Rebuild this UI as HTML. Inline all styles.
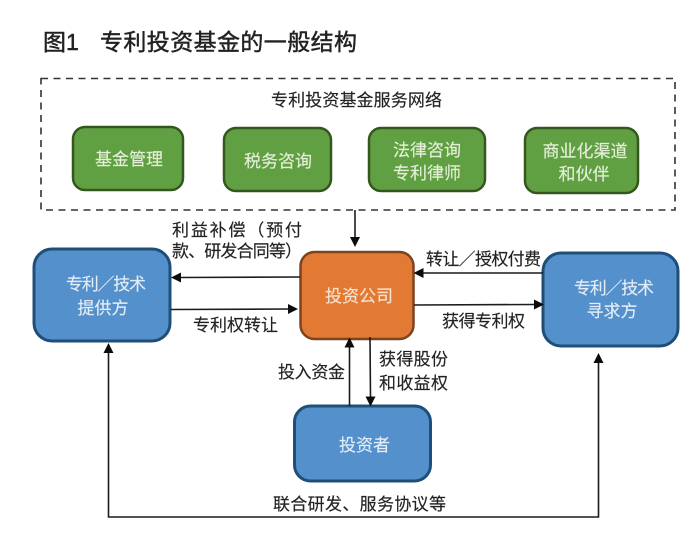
<!DOCTYPE html>
<html lang="zh">
<head>
<meta charset="utf-8">
<style>
html,body{margin:0;padding:0;background:#fff}
svg{display:block;filter:blur(.35px)}
text{font-family:"Liberation Sans","Noto Sans CJK SC",sans-serif;font-size:17px;fill:#222;stroke:#222;stroke-width:.15px}
.w{fill:#e4efd9;stroke:#e4efd9;text-anchor:middle}
.b{fill:#e2edf7;stroke:#e2edf7;text-anchor:middle}
.t{fill:#e2edf7;stroke:#e2edf7}
.g{fill:#61a042;stroke:#34571f;stroke-width:2.5}
.bl{fill:#5490cb;stroke:#1f4e79;stroke-width:3}
.l{stroke:#1c1c1c;stroke-width:1.6;fill:none}
.a{fill:#0c0c0c}
.h{font-size:23px;stroke-width:.45px}
</style>
</head>
<body>
<svg width="700" height="544" viewBox="0 0 700 544" xmlns="http://www.w3.org/2000/svg">
<rect width="700" height="544" fill="#fff"/>
<text class="h" x="43" y="50">图1</text>
<text class="h" x="100" y="50" textLength="257">专利投资基金的一般结构</text>

<rect x="41" y="78.500" width="634" height="131.500" fill="none" stroke="#333" stroke-width="1.6" stroke-dasharray="7 5.500"/>
<text x="271" y="106" textLength="171">专利投资基金服务网络</text>

<rect class="g" x="73" y="127" width="110" height="63" rx="12"/>
<rect class="g" x="224" y="128" width="107" height="63" rx="12"/>
<rect class="g" x="369" y="128" width="116" height="63" rx="12"/>
<rect class="g" x="525" y="128" width="113" height="65" rx="12"/>
<text class="w" x="129" y="165">基金管理</text>
<text class="w" x="278" y="167">税务咨询</text>
<text class="w" x="427" y="156">法律咨询</text>
<text class="w" x="427" y="179">专利律师</text>
<text class="w" x="585" y="157">商业化渠道</text>
<text class="w" x="584" y="180">和伙伴</text>

<rect class="bl" x="34" y="249" width="136" height="92" rx="18"/>
<rect x="300.500" y="252" width="113" height="87" rx="14" fill="#e37a34" stroke="#7d4321" stroke-width="2.500"/>
<rect class="bl" x="543" y="253" width="135" height="93" rx="18"/>
<rect class="bl" x="294.500" y="406" width="136" height="75" rx="16"/>
<text class="t" x="66" y="290" textLength="80">专利／技术</text>
<text class="b" x="103" y="314">提供方</text>
<text x="325" y="302" textLength="68" style="fill:#f6e3d2;stroke:#f6e3d2">投资公司</text>
<text class="t" x="574" y="294" textLength="80">专利／技术</text>
<text class="b" x="612" y="317">寻求方</text>
<text class="b" x="364.500" y="451">投资者</text>

<line class="l" x1="355" y1="210" x2="355" y2="240"/>
<polygon class="a" points="350,237 360,237 355,247"/>

<line class="l" x1="300" y1="277" x2="180" y2="277.500"/>
<polygon class="a" points="171,277.500 181,272.500 181,282.500"/>
<line class="l" x1="171" y1="309.500" x2="290" y2="309"/>
<polygon class="a" points="298,309 288,304 288,314"/>

<line class="l" x1="543" y1="273" x2="422" y2="273"/>
<polygon class="a" points="413.500,273 423.500,268 423.500,278"/>
<line class="l" x1="414" y1="305" x2="535" y2="304.500"/>
<polygon class="a" points="544,304.500 534,299.500 534,309.500"/>

<line class="l" x1="349.500" y1="406" x2="349.500" y2="346"/>
<polygon class="a" points="349.500,337.500 344.500,347.500 354.500,347.500"/>
<line class="l" x1="370" y1="337" x2="370.500" y2="398"/>
<polygon class="a" points="370.500,406.500 365.500,396.500 375.500,396.500"/>

<polyline class="l" points="108.500,350 108.500,517 598.500,517 598.500,361"/>
<polygon class="a" points="108.500,343 103.500,353 113.500,353"/>
<polygon class="a" points="598.500,353 593.500,363 603.500,363"/>

<text x="172" y="236" textLength="130">利益补偿（预付</text>
<text x="172" y="257" textLength="130">款、研发合同等）</text>
<text x="193" y="331" textLength="85">专利权转让</text>
<text x="278" y="378" textLength="67">投入资金</text>
<text x="379" y="365" textLength="69">获得股份</text>
<text x="379" y="389" textLength="69">和收益权</text>
<text x="426" y="265" textLength="115">转让／授权付费</text>
<text x="442" y="327" textLength="83">获得专利权</text>
<text x="273" y="510" textLength="173">联合研发、服务协议等</text>
</svg>
</body>
</html>
